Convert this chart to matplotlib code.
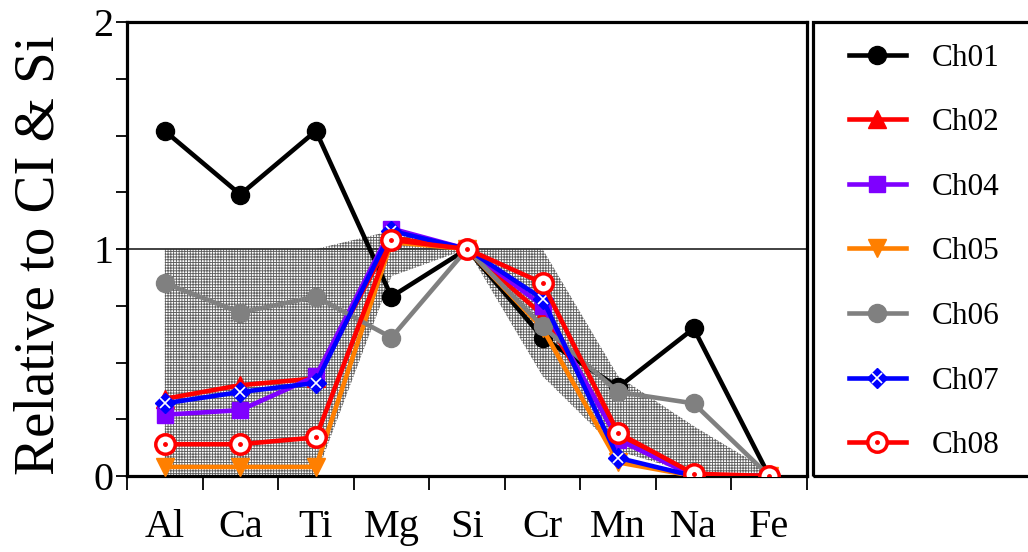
import numpy as np
import matplotlib
matplotlib.use("Agg")
import matplotlib.pyplot as plt
from matplotlib.patches import Rectangle

plt.rcParams['font.family'] = ['Liberation Serif', 'DejaVu Serif']
plt.rcParams['hatch.linewidth'] = 0.65

elements = ["Al", "Ca", "Ti", "Mg", "Si", "Cr", "Mn", "Na", "Fe"]

# CI chondrite range (shaded band)
band_low = [0.0, 0.0, 0.0, 0.88, 1.0, 0.44, 0.11, 0.01, 0.0]
band_high = [1.0, 1.0, 1.0, 1.08, 1.0, 1.0, 0.44, 0.22, 0.02]

ch01 = [1.52, 1.24, 1.52, 0.79, 1.0, 0.61, 0.39, 0.65, 0.0]
ch02 = [0.34, 0.40, 0.43, 1.05, 1.0, 0.71, 0.18, 0.0, 0.0]
ch04 = [0.27, 0.29, 0.44, 1.09, 1.0, 0.75, 0.16, 0.0, 0.0]
ch05 = [0.04, 0.04, 0.04, 1.03, 1.0, 0.65, 0.06, 0.0, 0.0]
ch06 = [0.85, 0.72, 0.79, 0.61, 1.0, 0.66, 0.37, 0.32, 0.0]
ch07 = [0.32, 0.37, 0.41, 1.08, 1.0, 0.78, 0.08, 0.0, 0.0]
ch08 = [0.14, 0.14, 0.17, 1.04, 1.0, 0.85, 0.19, 0.01, 0.0]
labels = ["Ch01", "Ch02", "Ch04", "Ch05", "Ch06", "Ch07", "Ch08"]

x = np.arange(len(elements))

fig = plt.figure(figsize=(10.28, 5.52), dpi=100)
ax = fig.add_axes([127/1028, 76/552, 680/1028, 454/552])

ax.fill_between(x, band_low, band_high, facecolor='white', edgecolor='#606060',
                hatch='++++++', linewidth=0, zorder=1)
ax.axhline(1, color='#333333', lw=1.3, zorder=1.5)

lw = 3.3
handles = []
h, = ax.plot(x, ch01, color='black', lw=lw, marker='o', ms=13, zorder=3)
handles.append(h)
h, = ax.plot(x, ch02, color='red', lw=lw, marker='^', ms=13, zorder=3)
handles.append(h)
h, = ax.plot(x, ch04, color='#7f00ff', lw=lw, marker='s', ms=12, zorder=3)
handles.append(h)
h, = ax.plot(x, ch05, color='#ff7f00', lw=lw, marker='v', ms=13, zorder=3)
handles.append(h)
h, = ax.plot(x, ch06, color='gray', lw=lw, marker='o', ms=13, zorder=3)
handles.append(h)
h1, = ax.plot(x, ch07, color='blue', lw=lw, marker='D', ms=10, zorder=3)
h2, = ax.plot(x, ch07, ls='none', marker='x', ms=7.5, mew=1.2, color='white', zorder=3)
handles.append((h1, h2))
h1, = ax.plot(x, ch08, color='red', lw=lw, marker='o', ms=14, mfc='white', mec='red', mew=2.5, zorder=3)
h2, = ax.plot(x, ch08, ls='none', marker='o', ms=2.5, color='red', zorder=3)
handles.append((h1, h2))

ax.set_xlim(-0.5, 8.5)
ax.set_ylim(0, 2)
ax.set_xticks(np.arange(-0.5, 9, 1))
ax.set_xticklabels([])
ax.set_xticks(x, minor=True)
ax.set_xticklabels(elements, minor=True)
ax.tick_params(axis='x', which='major', direction='out', length=10, width=1.3)
ax.tick_params(axis='x', which='minor', length=0, pad=24, labelsize=29)
ax.set_yticks(np.arange(0, 2.01, 0.25))
ax.set_yticklabels(['0', '', '', '', '1', '', '', '', '2'])
ax.tick_params(axis='y', direction='out', length=8, width=1.3, labelsize=29, pad=2)
for s in ax.spines.values():
    s.set_linewidth(2.3)
ax.set_ylabel("Relative to CI & Si", fontsize=41)
ax.yaxis.set_label_coords(-0.089, 0.487)

# legend box (runs past the right edge as in the original)
fig.patches.append(Rectangle((813/1028, 76/552), 240/1028, 454/552, transform=fig.transFigure,
                             fill=False, lw=2.3, edgecolor='black'))
fig.legend(handles, labels, loc='upper left', bbox_to_anchor=(836/1028, 1 - 31/552),
           frameon=False, fontsize=22.5, handlelength=1.85, labelspacing=1.14, handletextpad=0.8,
           borderaxespad=0)

fig.savefig("out.png", dpi=100)
